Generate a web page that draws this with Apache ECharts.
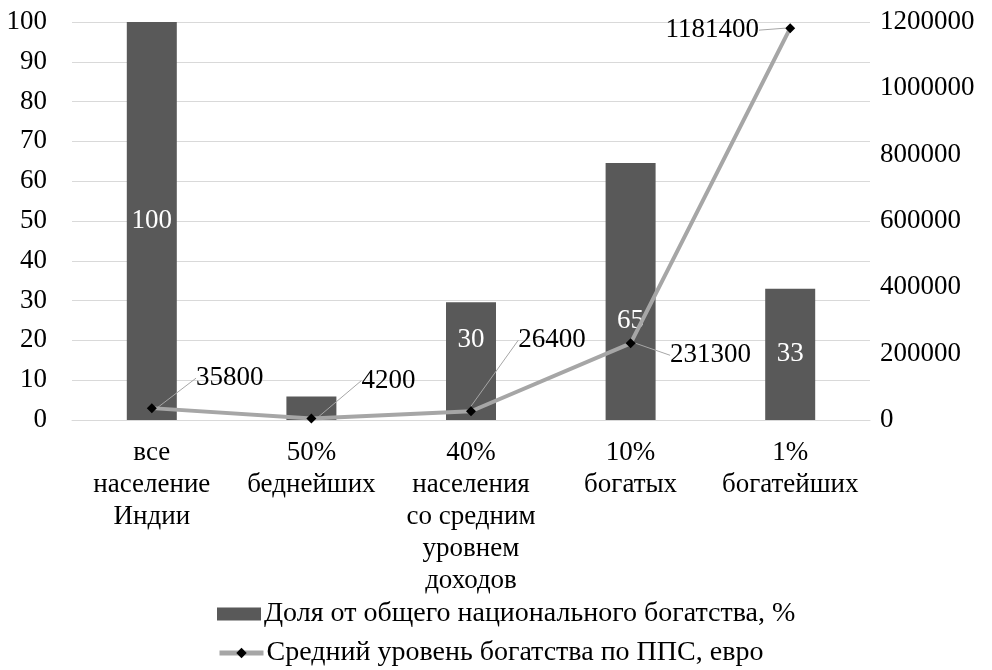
<!DOCTYPE html>
<html>
<head>
<meta charset="utf-8">
<script src="https://cdn.jsdelivr.net/npm/echarts@6/dist/echarts.min.js"></script>
<style>
  html, body { margin: 0; padding: 0; background: #fff; }
  #chart { width: 992px; height: 670px; }
</style>
</head>
<body>
<div id="chart"></div>
<script>
// данные
const categories = [
  'все\nнаселение\nИндии',
  '50%\nбеднейших',
  '40%\nнаселения\nсо средним\nуровнем\nдоходов',
  '10%\nбогатых',
  '1%\nбогатейших'
]
const shareData = [100, 5.9, 29.6, 64.6, 33]
const wealthData = [35800, 4200, 26400, 231300, 1181400]
const shareName = 'Доля от общего национального богатства, %'
const wealthName = 'Средний уровень богатства по ППС, евро'

const font = 'Liberation Serif, Times New Roman, serif'
const fs = 27

// смещения подписей у линии
const lineLabelShift = [
  [78, -30],
  [77, -38],
  [81, -71],
  [80, 12],
  [-78, 2]
]
// смещения подписей у столбцов
const barLabelShift = [[0, 0], [0, 0], [0, -21], [0, 29], [0, 0]]

// общая настройка легенды, две строки
const legendBase = {
  left: 212,
  itemWidth: 44,
  itemHeight: 13,
  textStyle: { fontSize: 28, color: '#000', fontFamily: font, padding: [0, 0, 0, -2] }
}

const chart = echarts.init(document.getElementById('chart'))
chart.setOption({
  animation: false,
  textStyle: { fontFamily: font },
  grid: {
    left: 72,
    right: 122,
    top: 22,
    bottom: 250
  },
  legend: [
    { ...legendBase, top: 595, data: [{ name: shareName, icon: 'rect' }] },
    { ...legendBase, top: 634, lineStyle: { width: 5, color: '#a6a6a6' }, data: [{ name: wealthName }] }
  ],
  xAxis: {
    type: 'category',
    data: categories,
    axisTick: { show: false },
    axisLine: { lineStyle: { color: '#d9d9d9' } },
    axisLabel: {
      fontSize: fs,
      color: '#000',
      lineHeight: 32,
      margin: 17,
      interval: 0
    }
  },
  yAxis: [
    {
      type: 'value',
      min: 0,
      max: 100,
      interval: 10,
      axisLabel: { fontSize: fs, color: '#000', margin: 25 },
      splitLine: { lineStyle: { color: '#d9d9d9' } }
    },
    {
      type: 'value',
      min: 0,
      max: 1200000,
      interval: 200000,
      position: 'right',
      axisLabel: { fontSize: fs, color: '#000', margin: 10, formatter: (v) => String(v) },
      splitLine: { show: false }
    }
  ],
  series: [
    {
      name: shareName,
      type: 'bar',
      barWidth: 50,
      itemStyle: { color: '#595959' },
      data: shareData.map((v, i) => ({
        value: v,
        label: {
          show: i !== 1,
          offset: barLabelShift[i]
        }
      })),
      label: {
        position: 'inside',
        color: '#fff',
        fontSize: fs,
        fontFamily: font,
        formatter: (p) => Math.round(p.value)
      }
    },
    {
      name: wealthName,
      type: 'line',
      yAxisIndex: 1,
      symbol: 'diamond',
      symbolSize: 10,
      itemStyle: { color: '#000' },
      lineStyle: { color: '#a6a6a6', width: 4 },
      data: wealthData,
      z: 5,
      label: {
        show: true,
        position: 'inside',
        color: '#000',
        fontSize: fs,
        fontFamily: font,
        padding: [0, 3]
      },
      labelLine: {
        show: true,
        lineStyle: { color: '#a6a6a6', width: 1 }
      },
      labelLayout: (p) => ({
        dx: lineLabelShift[p.dataIndex][0],
        dy: lineLabelShift[p.dataIndex][1]
      })
    }
  ]
})
</script>
</body>
</html>
